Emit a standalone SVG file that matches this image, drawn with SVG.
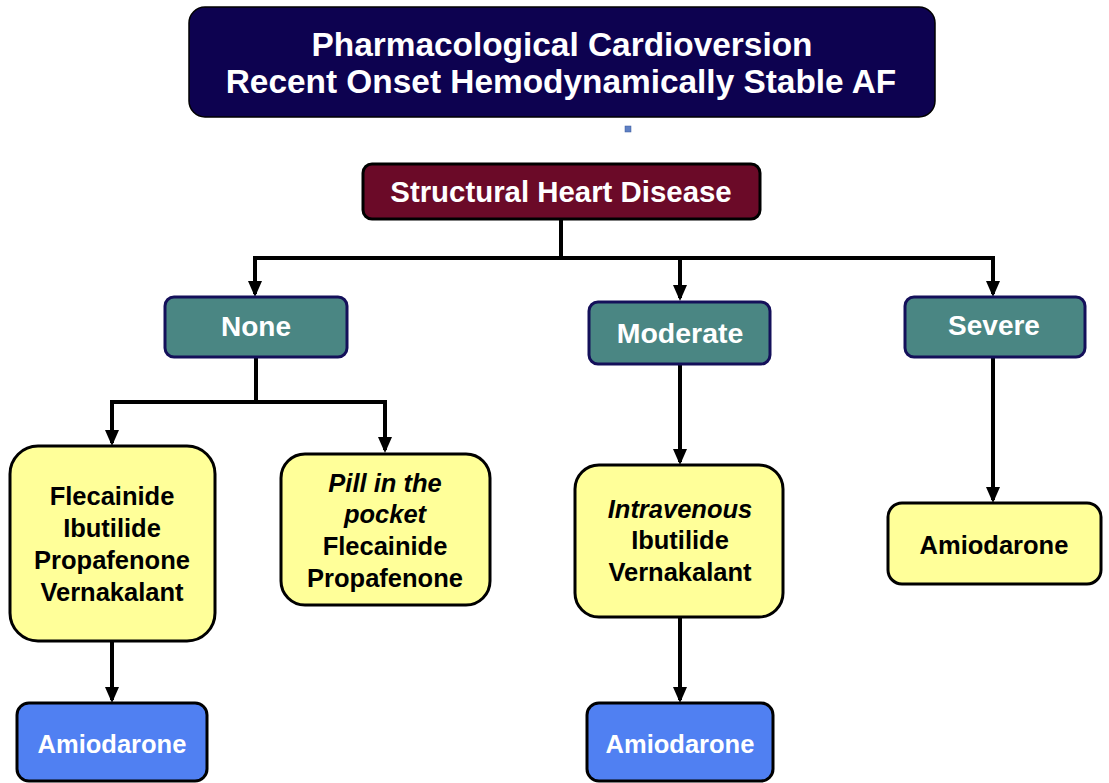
<svg xmlns="http://www.w3.org/2000/svg" width="1109" height="783" viewBox="0 0 1109 783">
<style>
text{font-family:"Liberation Sans",Arial,sans-serif;font-weight:bold;text-anchor:middle}
.w{fill:#ffffff}
.k{fill:#000000}
.it{font-style:italic}
.title{fill:#0d0250;stroke:#000;stroke-width:1.5}
.shd{fill:#6b0a28;stroke:#000;stroke-width:3}
.teal{fill:#4a8683;stroke:#14105a;stroke-width:3}
.yel{fill:#ffff99;stroke:#000;stroke-width:3}
.blue{fill:#5080f2;stroke:#000;stroke-width:3}
.c{fill:none;stroke:#000;stroke-width:4}
</style>
<defs>
<marker id="ah" markerUnits="userSpaceOnUse" markerWidth="16" markerHeight="14" refX="13" refY="7" orient="auto">
<path d="M0,0 L16,7 L0,14 z" fill="#000"/>
</marker>
</defs>
<rect width="1109" height="783" fill="#fff"/>
<g id="connectors">
<path class="c" d="M561,219 V258 M253,258 H995"/>
<path class="c" d="M255,258 V294" marker-end="url(#ah)"/>
<path class="c" d="M680,258 V298" marker-end="url(#ah)"/>
<path class="c" d="M993,258 V294" marker-end="url(#ah)"/>
<path class="c" d="M256,357 V402 M110,402 H387"/>
<path class="c" d="M112,402 V443" marker-end="url(#ah)"/>
<path class="c" d="M385,402 V450" marker-end="url(#ah)"/>
<path class="c" d="M112,641 V700" marker-end="url(#ah)"/>
<path class="c" d="M680,364 V462" marker-end="url(#ah)"/>
<path class="c" d="M680,617 V700" marker-end="url(#ah)"/>
<path class="c" d="M993,357 V500" marker-end="url(#ah)"/>
</g>
<g id="title">
<rect class="title" x="189" y="7" width="746" height="110" rx="16"/>
<text class="w" x="562" y="56" font-size="33.4">Pharmacological Cardioversion</text>
<text class="w" x="561" y="93" font-size="33.4">Recent Onset Hemodynamically Stable AF</text>
</g>
<g id="dot">
<rect x="625" y="126" width="6" height="6" fill="#5f80c4" stroke="#3a5a9a" stroke-width="0.5"/>
</g>
<g id="shd">
<rect class="shd" x="363" y="164" width="397" height="55" rx="9"/>
<text class="w" x="561" y="202" font-size="29.4">Structural Heart Disease</text>
</g>
<g id="none">
<rect class="teal" x="165" y="297" width="182" height="60" rx="9"/>
<text class="w" x="256" y="336" font-size="28">None</text>
</g>
<g id="moderate">
<rect class="teal" x="589" y="302" width="181" height="62" rx="9"/>
<text class="w" x="680" y="343" font-size="28.5">Moderate</text>
</g>
<g id="severe">
<rect class="teal" x="905" y="297" width="180" height="60" rx="9"/>
<text class="w" x="994" y="335" font-size="28">Severe</text>
</g>
<g id="flec">
<rect class="yel" x="10" y="446" width="205" height="195" rx="28"/>
<text class="k" x="112" y="505" font-size="25.5">Flecainide</text>
<text class="k" x="112" y="537" font-size="25.5">Ibutilide</text>
<text class="k" x="112" y="569" font-size="25.5">Propafenone</text>
<text class="k" x="112" y="601" font-size="25.5">Vernakalant</text>
</g>
<g id="pill">
<rect class="yel" x="281" y="454" width="209" height="151" rx="24"/>
<text class="k it" x="385" y="492" font-size="25.5">Pill in the</text>
<text class="k it" x="385" y="523" font-size="25.5">pocket</text>
<text class="k" x="385" y="555" font-size="25.5">Flecainide</text>
<text class="k" x="385" y="587" font-size="25.5">Propafenone</text>
</g>
<g id="iv">
<rect class="yel" x="575" y="465" width="208" height="152" rx="24"/>
<text class="k it" x="680" y="518" font-size="25.5">Intravenous</text>
<text class="k" x="680" y="549" font-size="25.5">Ibutilide</text>
<text class="k" x="680" y="581" font-size="25.5">Vernakalant</text>
</g>
<g id="amio-severe">
<rect class="yel" x="888" y="503" width="213" height="81" rx="14"/>
<text class="k" x="994" y="554" font-size="25.5">Amiodarone</text>
</g>
<g id="amio-1">
<rect class="blue" x="17" y="703" width="190" height="78" rx="12"/>
<text class="w" x="112" y="753" font-size="25.5">Amiodarone</text>
</g>
<g id="amio-2">
<rect class="blue" x="587" y="703" width="186" height="78" rx="12"/>
<text class="w" x="680" y="753" font-size="25.5">Amiodarone</text>
</g>
</svg>
